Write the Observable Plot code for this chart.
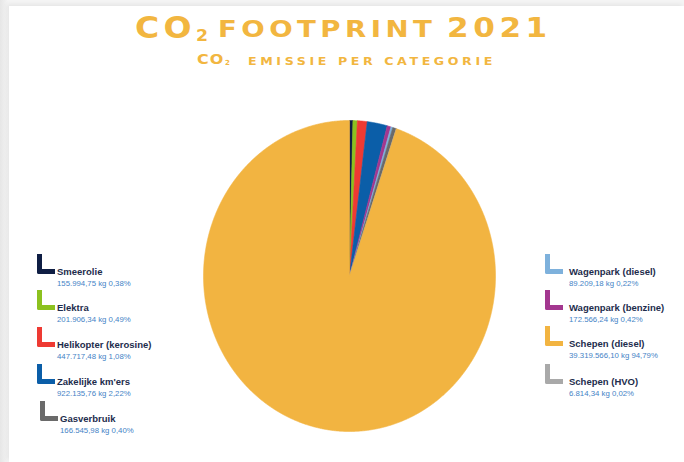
<!DOCTYPE html>
<html>
<head>
<meta charset="utf-8">
<script src="https://cdn.jsdelivr.net/npm/d3@7"></script>
<script src="https://cdn.jsdelivr.net/npm/@observablehq/plot@0.6"></script>
<style>
  html, body { margin: 0; padding: 0; }
  body { width: 684px; height: 462px; overflow: hidden; position: relative;
         background: linear-gradient(90deg, #e6e6e6 0px, #f4f4f4 8px, #f4f4f4 100%); font-family: "Liberation Sans", Arial, sans-serif; }
  #panel { position: absolute; left: 9px; top: 6px; right: 0; bottom: 0; background: #fff;
           box-shadow: -2px -2px 4px rgba(0,0,0,0.06); }
  #chart { position: absolute; left: 0; top: 0; }
  .t { position: absolute; color: #f2b640; font-family: "DejaVu Sans", sans-serif; font-weight: bold; line-height: 1; white-space: nowrap; transform-origin: 0 0; }
  .leg { position: absolute; white-space: nowrap; }
  .leg .icon { position: absolute; left: 0; top: 0; width: 13px; height: 15px; border-left: 5px solid; border-bottom: 5px solid; border-bottom-left-radius: 2px; box-sizing: content-box; }
  .leg .lab { position: absolute; top: 12px; font-size: 9.5px; font-weight: bold; color: #1d2c4c; }
  .leg .val { position: absolute; top: 25px; font-size: 7.8px; color: #4583c6; }
</style>
</head>
<body>
<div id="panel"></div>
<div id="chart"></div>
<div class="t" style="left:135px; top:13px; font-size:30px; letter-spacing:4px; transform:scaleX(1.1);">CO</div>
<div class="t" style="left:196px; top:29px; font-size:15px; transform:scaleX(1.15);">2</div>
<div class="t" style="left:218px; top:18px; font-size:23px; letter-spacing:3.7px; transform:scaleX(1.2);">FOOTPRINT</div>
<div class="t" style="left:447px; top:14px; font-size:27px; letter-spacing:4px; transform:scaleX(1.15);">2021</div>
<div class="t" style="left:197px; top:52px; font-size:14.5px; letter-spacing:1px; transform:scaleX(1.1);">CO</div>
<div class="t" style="left:225px; top:60px; font-size:7px;">2</div>
<div class="t" style="left:248px; top:56px; font-size:10.5px; letter-spacing:3px; transform:scaleX(1.2);">EMISSIE PER CATEGORIE</div>
<div id="legend"></div>
<script>
// Categories in pie order (clockwise from 12 o'clock)
const categories = ["Smeerolie", "Elektra", "Helikopter (kerosine)", "Zakelijke km'ers",
  "Wagenpark (benzine)", "Wagenpark (diesel)", "Gasverbruik", "Schepen (HVO)", "Schepen (diesel)"];
const emissionsKg = [155994.75, 201906.34, 447717.48, 922135.76, 172566.24, 89209.18, 166545.98, 6814.34, 39319566.10];
const valueLabels = ["155.994,75 kg 0,38%", "201.906,34 kg 0,49%", "447.717,48 kg 1,08%", "922.135,76 kg 2,22%",
  "172.566,24 kg 0,42%", "89.209,18 kg 0,22%", "166.545,98 kg 0,40%", "6.814,34 kg 0,02%", "39.319.566,10 kg 94,79%"];
const colors = ["#0f1e44", "#8cc11f", "#ee3a33", "#0b5ea8", "#a3378f", "#7eb1dc", "#6a6a6a", "#a9a9a9", "#f2b441"];

// Legend columns
const leftLegend = ["Smeerolie", "Elektra", "Helikopter (kerosine)", "Zakelijke km'ers", "Gasverbruik"];
const rightLegend = ["Wagenpark (diesel)", "Wagenpark (benzine)", "Schepen (diesel)", "Schepen (HVO)"];

const data = categories.map((c, i) => ({category: c, value: emissionsKg[i], color: colors[i], label: valueLabels[i]}));

const arcs = d3.pie().sort(null).value(d => d.value)(data);
const marks = arcs.map(a => {
  const pts = [{x: 0, y: 0}];
  const n = Math.max(2, Math.ceil((a.endAngle - a.startAngle) / 0.005));
  for (let k = 0; k <= n; k++) {
    const t = a.startAngle + (a.endAngle - a.startAngle) * k / n;
    pts.push({x: Math.sin(t), y: Math.cos(t)});
  }
  pts.push({x: 0, y: 0});
  return Plot.line(pts, {x: "x", y: "y", fill: a.data.color, stroke: a.data.color, strokeWidth: 0.6, curve: "linear"});
});

const chart = Plot.plot({
  width: 684, height: 462, margin: 0,
  x: {domain: [-1, 1], range: [203, 495], axis: null},
  y: {domain: [-1, 1], range: [431, 120], axis: null},
  style: {background: "transparent"},
  marks
});
document.getElementById("chart").appendChild(chart);

// HTML legend
const legend = document.getElementById("legend");
function addItem(name, left, top, iconDx, labDx) {
  const d = data.find(e => e.category === name);
  const el = document.createElement("div");
  el.className = "leg";
  el.style.left = left + "px"; el.style.top = top + "px";
  el.innerHTML = `<div class="icon" style="border-color:${d.color}; left:${iconDx}px"></div>` +
    `<div class="lab" style="left:${labDx + iconDx}px">${d.category}</div><div class="val" style="left:${labDx + iconDx}px">${d.label}</div>`;
  legend.appendChild(el);
}
const leftTops = [254, 290, 327, 364, 401];
leftLegend.forEach((n, i) => addItem(n, 37, leftTops[i], i === 4 ? 3 : 0, 20));
const rightTops = [254, 290, 326, 364];
rightLegend.forEach((n, i) => addItem(n, 545, rightTops[i], 0, 24));
</script>
</body>
</html>
